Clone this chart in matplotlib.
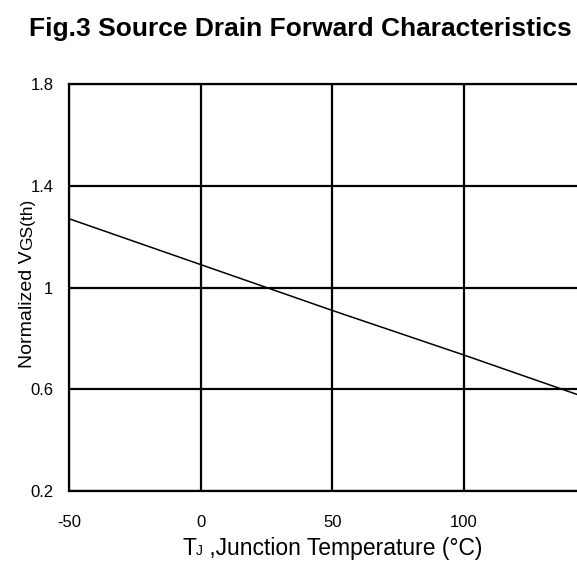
import matplotlib
matplotlib.use('Agg')
import matplotlib.pyplot as plt
from matplotlib.transforms import IdentityTransform

plt.rcParams['font.family'] = ['Liberation Sans', 'DejaVu Sans']

# ---- data ----
temps = [-50, 0, 50, 100, 150]
vgs_norm = [1.27, 1.09, 0.91, 0.735, 0.555]
x_ticks = [-50, 0, 50, 100]
x_tick_labels = ['-50', '0', '50', '100']
y_ticks = [0.2, 0.6, 1.0, 1.4, 1.8]
y_tick_labels = ['0.2', '0.6', '1', '1.4', '1.8']
title = 'Fig.3 Source Drain Forward Characteristics'
xlabel_pieces = [('T', 16.5), ('J', 10), (' ,Junction Temperature (°C)', 16.5)]
ylabel_pieces = [('Normalized V', 14), ('GS(th)', 12.5)]

W, H = 577, 561
fig = plt.figure(figsize=(W / 100, H / 100), dpi=100)
left, right, top, bottom = 69.3, 595.0, 84.0, 491.0
ax = fig.add_axes([left / W, (H - bottom) / H, (right - left) / W, (bottom - top) / H])

ax.plot(temps, vgs_norm, color='black', lw=1.1, solid_capstyle='butt')
ax.set_xlim(-50, 150)
ax.set_ylim(0.2, 1.8)
ax.set_xticks(x_ticks)
ax.set_xticklabels(x_tick_labels)
ax.set_yticks(y_ticks)
ax.set_yticklabels(y_tick_labels)
ax.tick_params(axis='both', length=0, labelsize=12, colors='black')
ax.tick_params(axis='x', pad=17)
ax.tick_params(axis='y', pad=11.5)
ax.grid(True, color='black', lw=1.6)
ax.set_axisbelow(True)
for sp in ax.spines.values():
    sp.set_linewidth(1.6)
    sp.set_color('black')

fig.text(300 / W, 1 - 36 / H, title, fontsize=19, fontweight='bold',
         ha='center', va='baseline')

renderer = fig.canvas.get_renderer()


def draw_pieces(pieces, cx, cy, rotation=0):
    widths = []
    for s, size in pieces:
        t = fig.text(0, 0, s, fontsize=size, transform=IdentityTransform())
        widths.append(t.get_window_extent(renderer).width)
        t.remove()
    total = sum(widths)
    pos = -total / 2
    for (s, size), w in zip(pieces, widths):
        if rotation == 0:
            x, y = cx + pos, cy
        else:
            x, y = cx, cy + pos
        fig.text(x, y, s, fontsize=size, rotation=rotation, rotation_mode='anchor',
                 ha='left', va='baseline', transform=IdentityTransform())
        pos += w


draw_pieces(xlabel_pieces, (left + right) / 2, H - 555)
draw_pieces(ylabel_pieces, 32, H - 283.5, rotation=90)

fig.savefig('out.png', dpi=100)
